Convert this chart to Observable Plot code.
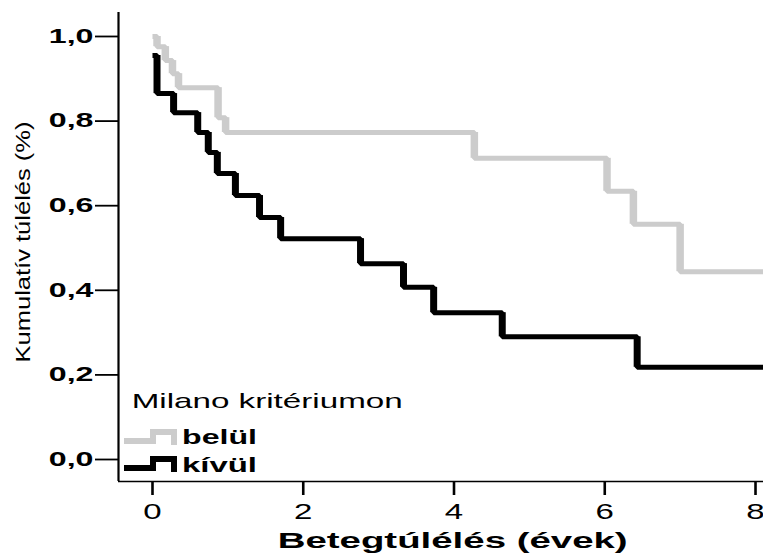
<!DOCTYPE html>
<html><head><meta charset="utf-8">
<script src="https://cdn.jsdelivr.net/npm/d3@7"></script>
<script src="https://cdn.jsdelivr.net/npm/@observablehq/plot@0.6"></script>
<style>body{margin:0;background:#fff} #wrap{position:relative;width:763px;height:556px}</style>
</head><body><div id="wrap"></div>
<script>
// Kaplan–Meier estimates
const belulTimes = [0, 0.06, 0.17, 0.265, 0.345, 0.87, 0.97, 4.27, 6.03, 6.38, 7.0, 8.15];
const belulSurv  = [1.0, 0.976, 0.943, 0.912, 0.879, 0.808, 0.773, 0.712, 0.634, 0.556, 0.444, 0.444];
const kivulTimes = [0, 0.06, 0.28, 0.60, 0.74, 0.86, 1.10, 1.42, 1.70, 2.76, 3.33, 3.73, 4.64, 6.43, 8.15];
const kivulSurv  = [0.955, 0.865, 0.820, 0.773, 0.726, 0.676, 0.624, 0.572, 0.522, 0.463, 0.407, 0.347, 0.290, 0.218, 0.218];
const groupNames = ["belül", "kívül"];
const legendTitle = "Milano kritériumon";
const xTicks = [0, 2, 4, 6, 8];
const yTicks = [0, 0.2, 0.4, 0.6, 0.8, 1.0];
const xLabel = "Betegtúlélés (évek)";
const yLabel = "Kumulatív túlélés (%)";
const xDomain = [-0.451, 8.106];
const yDomain = [-0.052, 1.0567];

const GRAY = "#cccccc", BLACK = "#000000";

function rows(times, surv) { return times.map((t, i) => ({t, s: surv[i]})); }
function verticals(times, surv) {
  const out = [];
  for (let i = 1; i < times.length; i++) if (surv[i] !== surv[i-1]) out.push({t: times[i], s1: surv[i-1], s2: surv[i]});
  return out;
}
const belulRows = rows(belulTimes, belulSurv), kivulRows = rows(kivulTimes, kivulSurv);
const belulVert = verticals(belulTimes, belulSurv), kivulVert = verticals(kivulTimes, kivulSurv);

const plot = Plot.plot({
  width: 763, height: 556,
  marginLeft: 118, marginRight: 0, marginTop: 12, marginBottom: 75,
  x: {domain: xDomain},
  y: {domain: yDomain},
  style: {fontFamily: "'Liberation Sans', Arial, sans-serif", background: "white", color: "black", overflow: "visible"},
  marks: [
    Plot.line(belulRows, {x: "t", y: "s", curve: "step-after", stroke: GRAY, strokeWidth: 5, strokeLinejoin: "miter", strokeLinecap: "butt", clip: true}),
    Plot.ruleX(belulVert, {x: "t", y1: "s1", y2: "s2", stroke: GRAY, strokeWidth: 7.5, strokeLinecap: "butt"}),
    Plot.line(kivulRows, {x: "t", y: "s", curve: "step-after", stroke: BLACK, strokeWidth: 5, strokeLinejoin: "miter", strokeLinecap: "butt", clip: true}),
    Plot.ruleX(kivulVert, {x: "t", y1: "s1", y2: "s2", stroke: BLACK, strokeWidth: 7, strokeLinecap: "butt"}),
    Plot.ruleX([xDomain[0]], {stroke: "black", strokeWidth: 2.2}),
    Plot.ruleY([yDomain[0]], {stroke: "black", strokeWidth: 1.6}),
    Plot.axisY({ticks: yTicks, tickFormat: d => d3.format(".1f")(d).replace(".", ","), tickSize: 23, tickPadding: 2, fontSize: 19.5, fontWeight: "bold", strokeWidth: 1.8, label: null}),
    Plot.axisX({ticks: xTicks, tickFormat: d => String(d), tickSize: 14, tickPadding: 8, fontSize: 22, strokeWidth: 2.6, label: null})
  ]
});

const svg = d3.select(plot);
svg.selectAll('g[aria-label="y-axis tick label"] text').each(function() {
  this.setAttribute("transform", (this.getAttribute("transform") || "") + " scale(1.65,1)");
});
svg.selectAll('g[aria-label="x-axis tick label"] text').each(function() {
  this.setAttribute("transform", (this.getAttribute("transform") || "") + " scale(1.5,1)");
});

const ff = "'Liberation Sans', Arial, sans-serif";
// y title
svg.append("text").attr("transform", "translate(29.5,242) rotate(-90)")
  .attr("text-anchor", "middle").attr("font-family", ff).attr("font-size", 20.5)
  .attr("textLength", 241).attr("lengthAdjust", "spacingAndGlyphs").attr("fill", "black").text(yLabel);
// x title
svg.append("text").attr("x", 277.7).attr("y", 547.5).attr("text-anchor", "start")
  .attr("font-family", ff).attr("font-size", 22.5).attr("font-weight", "bold")
  .attr("textLength", 350).attr("lengthAdjust", "spacingAndGlyphs").attr("fill", "black").text(xLabel);

// legend
const lg = svg.append("g").attr("aria-label", "legend").attr("text-anchor", "start");
lg.append("text").attr("x", 131.7).attr("y", 408.3).attr("text-anchor", "start").attr("font-family", ff).attr("font-size", 21)
  .attr("textLength", 271).attr("lengthAdjust", "spacingAndGlyphs").attr("fill", "black").text(legendTitle);
const legendItems = [
  {name: groupNames[0], color: GRAY, y: 441, base: 444},
  {name: groupNames[1], color: BLACK, y: 468, base: 471.7}
];
legendItems.forEach(it => {
  lg.append("path").attr("d", `M124,${it.y}H153V${it.y - 9}H174V${it.y + 4}`)
    .attr("fill", "none").attr("stroke", it.color).attr("stroke-width", 6).attr("stroke-linejoin", "miter");
  lg.append("text").attr("x", 182).attr("y", it.base).attr("text-anchor", "start").attr("font-family", ff).attr("font-size", 20).attr("font-weight", "bold")
    .attr("textLength", 75).attr("lengthAdjust", "spacingAndGlyphs").attr("fill", "black").text(it.name);
});

document.getElementById("wrap").appendChild(plot);
</script>
</body></html>
